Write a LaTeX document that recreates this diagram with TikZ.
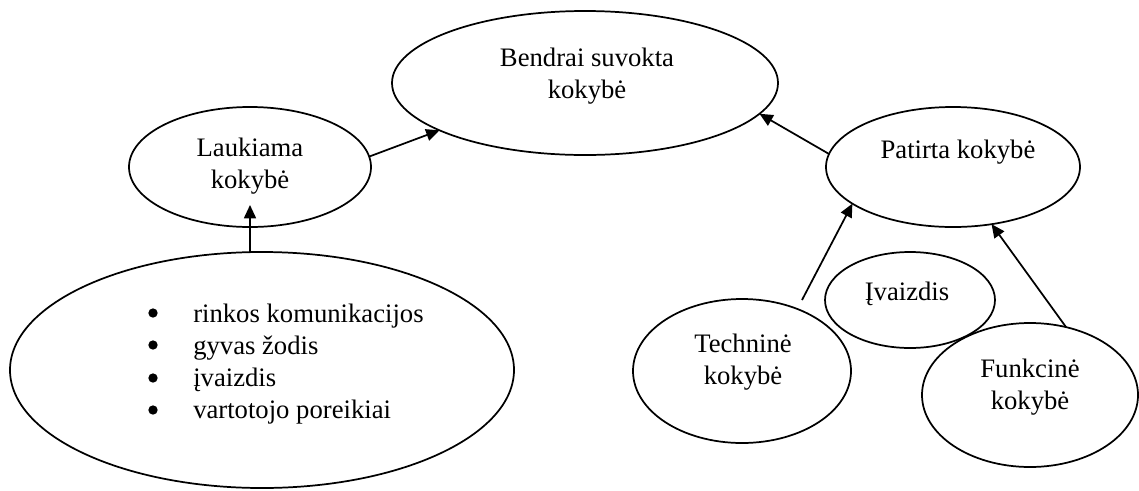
\documentclass[tikz,border=0pt]{standalone}
\usepackage{fontspec}
\setmainfont{Liberation Serif}
\usetikzlibrary{arrows.meta,shapes.geometric}
\begin{document}
\begin{tikzpicture}[x=0.75pt,y=-0.75pt,
  every node/.style={font=\fontsize{20}{24}\selectfont},
  oval/.style={draw,ellipse,line width=1.3pt,inner sep=0pt,outer sep=0pt},
  lbl/.style={align=center,inner sep=0pt},
  arr/.style={line width=1.3pt,-{Triangle[length=10pt,width=9pt]}}]
\fill[white] (0,0) rectangle (1139,490);
\useasboundingbox (0,0) rectangle (1139,490);
% ellipses
\node[oval,minimum width=289.5pt,minimum height=108pt] (bendr) at (585,83) {};
\node[oval,minimum width=181.5pt,minimum height=90pt] (lauk) at (250,167) {};
\node[oval,minimum width=378pt,minimum height=177pt] (big) at (262,370) {};
\node[oval,minimum width=190.5pt,minimum height=90pt] (pat) at (953,167) {};
\node[oval,minimum width=127.5pt,minimum height=72pt] (ivz) at (910,300) {};
\node[oval,minimum width=163.5pt,minimum height=108pt] (tech) at (742,371) {};
\node[oval,minimum width=162pt,minimum height=108pt] (funk) at (1030,395) {};
% texts
\node[lbl] (bendrT) at (587,76) {Bendrai suvokta\\kokybė};
\node[lbl] (laukT) at (250,166) {Laukiama\\kokybė};
\node[lbl] (patT) at (958,152) {Patirta kokybė};
\node[lbl] (ivzT) at (907,294) {Įvaizdis};
\node[lbl] (techT) at (743,362) {Techninė\\kokybė};
\node[lbl] (funkT) at (1030,387) {Funkcinė\\kokybė};
\node[align=left,inner sep=0pt,anchor=west] (list) at (193,364)
  {rinkos komunikacijos\\gyvas žodis\\įvaizdis\\vartotojo poreikiai};
% bullets
\foreach \yy in {313,345,378,410} \fill (153,\yy) circle (3.5pt);
% free ends
\coordinate (lauktip) at (250,205);
\coordinate (techtop) at (802,300);
% connectors
\draw[arr] (lauk.5.8) -- (bendr.198.6);
\draw[arr] (pat.174.6) -- (bendr.350.5);
\draw[arr] (big.north -| lauk.center) -- (lauktip);
\draw[arr] (techtop) -- (pat.200.25);
\draw[arr] (funk.62.8) -- (pat.304.5);
\end{tikzpicture}
\end{document}
